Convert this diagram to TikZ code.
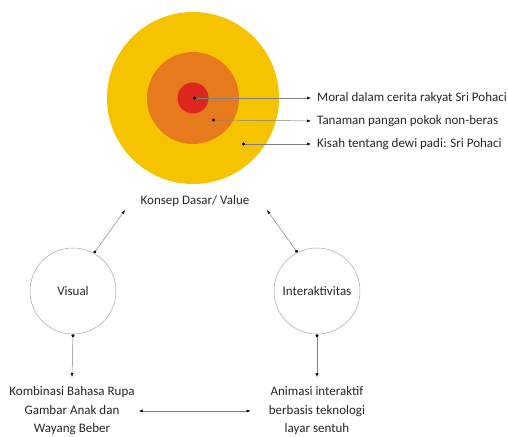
\documentclass[tikz,border=0pt]{standalone}
\usepackage{fontspec}
\setmainfont{Carlito}
\usepackage{tikz}
\usetikzlibrary{arrows.meta}
\definecolor{padiyellow}{RGB}{246,195,0}
\definecolor{padiorange}{RGB}{232,122,30}
\definecolor{padired}{RGB}{221,38,30}

\begin{document}
\begin{tikzpicture}[x=1pt,y=-1pt,
		every node/.style={font=\fontsize{13}{18.5}\selectfont,text=black!85},
		ring/.style={circle,inner sep=0pt},
		pillar/.style={circle,draw=gray!70,line width=0.5pt,minimum size=86pt,inner sep=0pt},
		dotarrow/.style={draw=gray,line width=0.5pt,{Circle[length=3pt,black]}-{Latex[length=4pt,width=3pt,black]}},
		twoarrow/.style={draw=gray,line width=0.5pt,{Latex[length=4pt,width=3pt,black]}-{Latex[length=4pt,width=3pt,black]}}]
					\useasboundingbox (0,0) rectangle (508,436);
					
					\node[ring,fill=padiyellow,minimum size=172pt] (outer) at (193,98) {};
					\node[ring,fill=padiorange,minimum size=92pt] (middle) at (193,98) {};
					\node[ring,fill=padired,minimum size=31pt] (inner) at (193,98) {};
					
					\coordinate (dotred) at (193,98);
					\coordinate (dotorange) at (212,120);
					\coordinate (dotyellow) at (242,144);
					
					\node[anchor=west,inner sep=0pt] (moral) at (317,98) {Moral dalam cerita rakyat Sri Pohaci};
					\node[anchor=west,inner sep=0pt] (tanaman) at (317,121) {Tanaman pangan pokok non-beras};
					\node[anchor=west,inner sep=0pt] (kisah) at (317,144) {Kisah tentang dewi padi: Sri Pohaci};
					
					\draw[dotarrow,shorten >=6pt] (dotred)--(moral.west);
					\draw[dotarrow,shorten >=6pt] (dotorange)--(tanaman.west);
					\draw[dotarrow,shorten >=6pt] (dotyellow)--(kisah.west);
					
					\node (konsep) at (195,201) {Konsep Dasar/ Value};
					\coordinate (konsepL) at (125,210);
					\coordinate (konsepR) at (267,210);
					
					\node[pillar] (visual) at (73,291) {Visual};
					\node[pillar] (inter) at (317,291) {Interaktivitas};
					
					\draw[dotarrow] (visual.61)--(konsepL);
					\draw[dotarrow] (inter.117)--(konsepR);
					
					\node[align=center,inner sep=0pt] (kombinasi) at (72,411) {Kombinasi Bahasa Rupa\\Gambar Anak dan\\Wayang Beber};
					\node[align=center,inner sep=0pt] (animasi) at (317,411) {Animasi interaktif\\berbasis teknologi\\layar sentuh};
					\coordinate (kombinasiTop) at (72,377);
					\coordinate (animasiTop) at (317,377);
					
					\draw[dotarrow] (visual.south)--(kombinasiTop);
					\draw[dotarrow] (inter.south)--(animasiTop);
					
					\draw[twoarrow,shorten <=4pt,shorten >=18pt] (kombinasi.east)--(animasi.west);
				\end{tikzpicture}
\end{document}
